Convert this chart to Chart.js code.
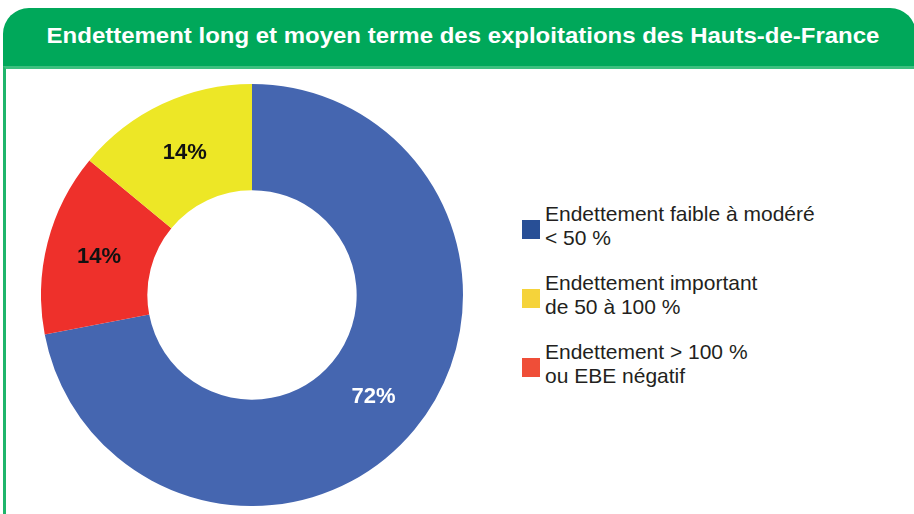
<!DOCTYPE html>
<html>
<head>
<meta charset="utf-8">
<script src="https://cdn.jsdelivr.net/npm/chart.js@4"></script>
<style>
  body { margin: 0; background: #fff; font-family: "Liberation Sans", Arial, sans-serif; overflow: hidden; }
  #frame { position: absolute; left: 3px; top: 66px; width: 920px; height: 460px;
           border-left: 3px solid #1fb56b; border-top: 3px solid #3cc07f; }
  #header { position: absolute; left: 3px; top: 8px; width: 913px; height: 58px;
            background: #00a85a; border-radius: 26px 26px 0 0; }
  #title { position: absolute; left: 6px; top: 8px; width: 914px; height: 58px; line-height: 56px;
           text-align: center; color: #fff; font-weight: bold; font-size: 22px;
           transform: scaleX(1.09); transform-origin: 457px 0; }
  #chartBox { position: absolute; left: 41px; top: 84px; width: 422px; height: 422px; }
  #legend { position: absolute; left: 522px; top: 202px; }
  .item { position: relative; height: 69px; }
  .sw { position: absolute; left: 0; width: 18px; height: 19px; }
  .txt { position: absolute; left: 23px; top: 0; font-size: 21px; line-height: 24px; color: #231f20; white-space: nowrap; }
</style>
</head>
<body>
<div id="header"></div>
<div id="frame"></div>
<div id="title">Endettement long et moyen terme des exploitations des Hauts-de-France</div>
<div id="chartBox"><canvas id="c"></canvas></div>
<div id="legend"></div>
<script>
// slices in drawing order (clockwise from the top)
let sliceLabels = ['Endettement faible à modéré < 50 %', 'Endettement > 100 % ou EBE négatif', 'Endettement important de 50 à 100 %'];
let sliceValues = [72, 14, 14];
let sliceColors = ['#4566b0', '#ee302b', '#ede726'];
let valueColors = ['#ffffff', '#111111', '#111111'];

// legend order as printed
let legendLines = [
    ['Endettement faible à modéré', '< 50 %'],
    ['Endettement important', 'de 50 à 100 %'],
    ['Endettement > 100 %', 'ou EBE négatif']
];
let legendColors = ['#284f96', '#f5d33a', '#ef4e38'];

let legend = document.getElementById('legend');
legendLines.forEach((lines, i) => {
    let item = document.createElement('div');
    item.className = 'item';
    let sw = document.createElement('div');
    sw.className = 'sw';
    sw.style.background = legendColors[i];
    sw.style.top = '18px';
    let txt = document.createElement('div');
    txt.className = 'txt';
    txt.innerHTML = lines.join('<br>');
    item.appendChild(sw);
    item.appendChild(txt);
    legend.appendChild(item);
});

// draws the percentages at the middle of each slice
const sliceValuePlugin = {
    id: 'sliceValues',
    afterDatasetsDraw(chart) {
        let ctx = chart.ctx;
        let meta = chart.getDatasetMeta(0);
        ctx.save();
        ctx.font = 'bold 22px "Liberation Sans", Arial, sans-serif';
        ctx.textAlign = 'center';
        ctx.textBaseline = 'middle';
        meta.data.forEach((arc, i) => {
            let pos = arc.tooltipPosition();
            ctx.fillStyle = valueColors[i];
            ctx.fillText(sliceValues[i] + '%', pos.x, pos.y + 1);
        });
        ctx.restore();
    }
};

new Chart(document.getElementById('c'), {
    type: 'doughnut',
    data: {
        labels: sliceLabels,
        datasets: [{
            data: sliceValues,
            backgroundColor: sliceColors,
            borderWidth: 0
        }]
    },
    options: {
        responsive: true,
        maintainAspectRatio: false,
        animation: false,
        cutout: '49.6%',
        layout: { padding: 0 },
        plugins: {
            legend: { display: false },
            tooltip: { enabled: false }
        }
    },
    plugins: [sliceValuePlugin]
});
</script>
</body>
</html>
